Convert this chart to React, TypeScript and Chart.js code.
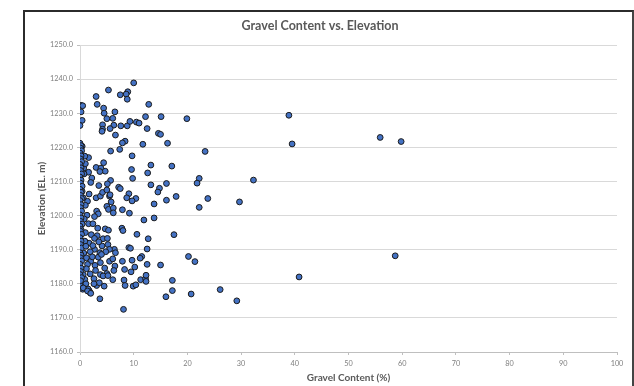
import React, { useEffect, useRef } from "react";
import { Chart, registerables } from "chart.js";

Chart.register(...registerables);

const chartTitle = "Gravel Content vs. Elevation";
const xAxisTitle = "Gravel Content (%)";
const yAxisTitle = "Elevation (EL. m)";

const xTickValues = [0, 10, 20, 30, 40, 50, 60, 70, 80, 90, 100];
const yTickValues = [1160, 1170, 1180, 1190, 1200, 1210, 1220, 1230, 1240, 1250];

// Gravel content (%) of each sample
const gravelPct = [
  10.0, 5.3, 8.9, 8.6, 7.5, 3.0, 8.8, 3.2, 12.8, 0.2, 0.5, 4.4, 6.5, 4.5, 0.2, 5.0, 6.1, 12.2, 15.1, 19.9,
  38.9, 0.4, 0.0, 4.2, 6.3, 7.6, 8.8, 9.3, 10.5, 11.0, 5.6, 4.2, 4.1, 12.5, 14.6, 15.0, 6.6, 8.4, 7.9, 11.7,
  16.3, 39.5, 55.9, 59.8, 7.4, 5.7, 23.3, 9.7, 1.6, 13.2, 17.1, 4.4, 3.0, 3.9, 4.7, 3.7, 9.6, 12.6, 9.8, 1.6,
  2.2, 0.7, 1.0, 22.2, 21.8, 32.3, 16.1, 13.2, 5.7, 5.1, 2.0, 7.2, 7.5, 14.8, 14.5, 17.9, 23.8, 9.1, 10.4, 9.7,
  8.7, 13.8, 16.1, 22.2, 29.7, 7.9, 9.2, 11.9, 13.8, 7.8, 8.0, 10.6, 17.5, 12.7, 9.1, 9.4, 12.5, 6.4, 7.9, 9.7,
  11.5, 11.2, 12.5, 15.0, 20.2, 21.4, 8.3, 9.5, 10.2, 6.1, 8.2, 8.4, 9.9, 10.4, 11.3, 12.2, 12.3, 12.3, 17.2, 17.2,
  16.0, 20.7, 26.1, 29.2, 40.8, 58.7, 8.1, 3.7, 4.5, 3.1, 1.7, 1.5, 1.9, 0.5, 0.7, 0.0,
  1.4, 3.0, 3.8, 5.5, 5.8, 5.0, 5.3, 6.2, 6.2, 3.1, 3.4, 2.7, 1.3, 1.6, 2.4, 3.3, 4.7, 5.3, 3.2, 2.1,
  1.7, 2.7, 4.3, 5.1, 4.1, 5.2, 5.5, 6.6, 4.8, 3.7, 2.7, 1.9, 0.7, 1.2, 2.0, 1.4, 2.8, 3.8, 5.5, 6.1,
  6.5, 6.3, 5.0, 3.8, 1.9, 0.6, 0.9, 2.6, 4.3, 5.2, 3.6, 2.6, 1.1, 0.6, 1.4, 2.0,
  3.5, 4.2, 5.0, 5.6, 0.4, 0.9, 0.75, 0.4, 0.6, 1.7, 1.0, 0.8, 1.0, 0.9, 1.2,
  0.0, 0.2, 0.1, 0.3, 0.0, 0.2, 0.1, 0.3, 0.0, 0.2, 0.1, 0.3, 0.0, 0.2, 0.1, 0.4, 0.0, 0.2, 0.1, 0.3,
  0.0, 0.2, 0.1, 0.3, 0.0, 0.2, 0.1, 0.4, 0.0, 0.2, 0.1, 0.3, 0.0, 0.2, 0.1, 0.3, 0.0, 0.2, 0.1, 0.3,
  0.0, 0.2, 0.1, 0.0, 0.3, 0.1,
  2.3, 3.4, 4.6, 2.9, 4.0, 1.1, 2.4, 3.5,
];

// Elevation (EL. m) of each sample
const elevationM = [
  1238.9, 1236.8, 1236.3, 1235.6, 1235.4, 1234.9, 1234.1, 1232.6, 1232.6, 1232.3, 1232.2, 1231.5, 1230.4, 1230.0, 1230.4, 1228.4, 1228.5, 1229.0, 1229.0, 1228.4,
  1229.4, 1227.9, 1226.4, 1226.6, 1226.5, 1226.3, 1226.3, 1227.6, 1227.4, 1227.1, 1225.5, 1225.3, 1224.7, 1225.5, 1224.1, 1223.8, 1223.6, 1221.8, 1221.3, 1220.9,
  1221.2, 1221.0, 1222.9, 1221.7, 1219.4, 1218.9, 1218.8, 1217.5, 1217.0, 1214.8, 1214.5, 1215.5, 1214.1, 1213.9, 1213.0, 1212.9, 1213.5, 1212.5, 1210.9, 1212.7,
  1211.0, 1213.9, 1215.2, 1210.9, 1209.5, 1210.4, 1209.4, 1209.0, 1210.3, 1209.3, 1209.7, 1208.3, 1207.9, 1208.0, 1206.9, 1205.6, 1205.0, 1206.4, 1205.0, 1204.3,
  1205.2, 1203.4, 1204.5, 1202.4, 1204.0, 1201.7, 1200.7, 1198.7, 1199.3, 1196.3, 1195.6, 1194.5, 1194.4, 1193.2, 1190.6, 1190.4, 1190.2, 1190.1, 1186.6, 1186.9,
  1188.0, 1187.5, 1185.7, 1185.5, 1188.0, 1186.5, 1184.2, 1183.5, 1184.9, 1181.2, 1181.1, 1179.5, 1179.3, 1179.7, 1181.2, 1181.5, 1182.5, 1180.7, 1181.0, 1178.0,
  1176.2, 1177.0, 1178.3, 1175.0, 1182.0, 1188.2, 1172.5, 1175.6, 1179.3, 1179.5, 1178.0, 1178.5, 1177.4, 1178.4, 1179.5, 1179.7,
  1204.2, 1205.2, 1205.7, 1205.7, 1204.0, 1202.7, 1201.8, 1202.2, 1200.8, 1201.3, 1200.5, 1199.7, 1200.1, 1197.6, 1197.6, 1196.3, 1196.1, 1195.7, 1194.1, 1194.4,
  1191.9, 1193.3, 1193.2, 1193.3, 1191.1, 1191.5, 1190.1, 1189.1, 1189.4, 1189.1, 1190.1, 1189.4, 1189.0, 1187.6, 1186.6, 1185.7, 1185.4, 1186.2, 1186.6, 1187.3,
  1185.2, 1183.9, 1183.0, 1182.7, 1182.9, 1182.7, 1181.3, 1181.5, 1182.3, 1182.4, 1180.3, 1180.0, 1180.0, 1178.8, 1177.9, 1177.2,
  1208.8, 1206.8, 1207.5, 1206.1, 1220.3, 1217.4, 1212.2, 1207.1, 1205.2, 1206.3, 1203.0, 1199.0, 1195.0, 1192.5, 1184.4,
  1221.2, 1220.5, 1219.8, 1219.0, 1218.3, 1217.5, 1216.6, 1215.8, 1215.0, 1214.0, 1213.2, 1212.2, 1211.3, 1210.4, 1209.5, 1208.6, 1207.7, 1206.8, 1205.9, 1205.0,
  1204.4, 1203.2, 1202.3, 1201.3, 1200.2, 1199.3, 1198.3, 1197.5, 1196.9, 1195.9, 1195.4, 1194.5, 1193.5, 1192.5, 1191.5, 1190.5, 1189.1, 1188.4, 1187.6, 1186.7,
  1185.7, 1184.6, 1183.6, 1182.7, 1181.8, 1180.9,
  1187.9, 1187.8, 1184.6, 1183.9, 1188.6, 1191.0, 1191.2, 1192.3,
];

const FONT = "Lato, 'Open Sans', sans-serif";

export default function App() {
  const canvasRef = useRef<HTMLCanvasElement | null>(null);

  useEffect(() => {
    const canvas = canvasRef.current;
    if (!canvas) return;
    const points = gravelPct.map((g, i) => ({ x: g, y: elevationM[i] }));
    const chart = new Chart(canvas, {
      type: "scatter",
      data: {
        datasets: [
          {
            data: points,
            backgroundColor: "#4472C4",
            borderColor: "#1a1a1a",
            borderWidth: 1,
            pointRadius: 2.9,
            pointHoverRadius: 2.9,
          },
        ],
      },
      options: {
        animation: false,
        responsive: false,
        maintainAspectRatio: false,
        devicePixelRatio: 1,
        layout: { padding: { left: 0, right: 16, top: 0, bottom: 0 } },
        plugins: {
          legend: { display: false },
          tooltip: { enabled: false },
          title: {
            display: true,
            text: chartTitle,
            color: "#595959",
            font: { family: FONT, size: 12.5, weight: "bold", lineHeight: 1.2 },
            padding: { top: 8.5, bottom: 11.5 },
          },
        },
        scales: {
          x: {
            type: "linear",
            min: xTickValues[0],
            max: xTickValues[xTickValues.length - 1],
            afterBuildTicks: (scale: any) => {
              scale.ticks = xTickValues.map((v) => ({ value: v }));
            },
            afterFit: (scale: any) => {
              scale.height = 34;
            },
            ticks: {
              color: "#7f7f7f",
              font: { family: FONT, size: 7.3 },
              padding: 4,
              maxRotation: 0,
              autoSkip: false,
            },
            grid: {
              drawOnChartArea: false,
              drawTicks: true,
              tickLength: 3,
              color: "#bfbfbf",
            },
            border: { display: true, color: "#bfbfbf" },
            title: {
              display: true,
              text: xAxisTitle,
              color: "#595959",
              font: { family: FONT, size: 10, weight: "bold", lineHeight: 1.2 },
              padding: { top: 0, bottom: 2.7 },
            },
          },
          y: {
            type: "linear",
            min: yTickValues[0],
            max: yTickValues[yTickValues.length - 1],
            afterBuildTicks: (scale: any) => {
              scale.ticks = yTickValues.map((v) => ({ value: v }));
            },
            afterFit: (scale: any) => {
              scale.width = 57;
            },
            ticks: {
              color: "#7f7f7f",
              font: { family: FONT, size: 7.3 },
              padding: 4,
              autoSkip: false,
              callback: (v: any) => Number(v).toFixed(1),
            },
            grid: {
              drawOnChartArea: true,
              drawTicks: true,
              tickLength: 3,
              color: "#d9d9d9",
              tickColor: "#bfbfbf",
            },
            border: { display: true, color: "#d9d9d9" },
            title: {
              display: true,
              text: yAxisTitle,
              color: "#595959",
              font: { family: FONT, size: 10, weight: "bold", lineHeight: 1.2 },
              padding: { top: 12.7, bottom: 0 },
            },
          },
        },
      },
    } as any);
    return () => {
      chart.destroy();
    };
  }, []);

  return (
    <div>
      <canvas
        ref={canvasRef}
        width={610}
        height={376}
        style={{ position: "absolute", left: 23, top: 10, width: 610, height: 376, display: "block" }}
      />
      <div
        style={{
          position: "absolute",
          left: 23,
          top: 10,
          width: 611,
          height: 376,
          boxSizing: "border-box",
          borderLeft: "2px solid #2b2b2b",
          borderTop: "2px solid #2b2b2b",
          borderRight: "2px solid #444",
          pointerEvents: "none",
        }}
      />
    </div>
  );
}
